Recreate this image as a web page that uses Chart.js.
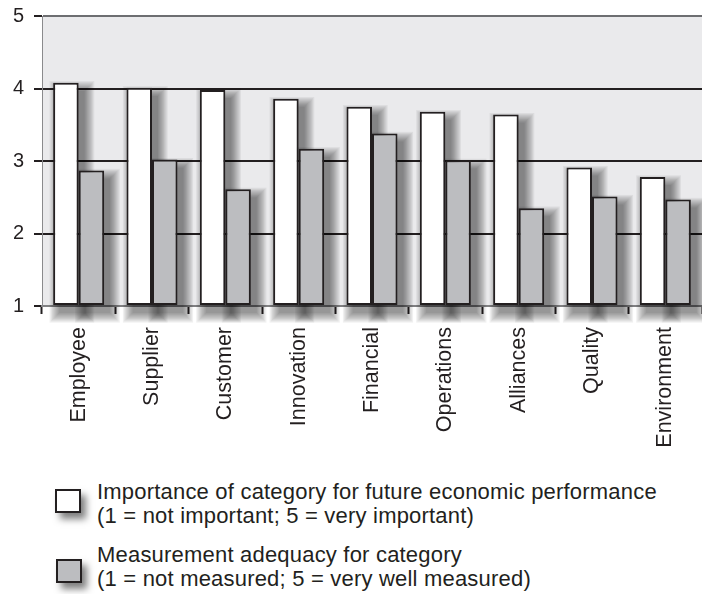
<!DOCTYPE html>
<html>
<head>
<meta charset="utf-8">
<script src="https://cdn.jsdelivr.net/npm/chart.js@4.4.1/dist/chart.umd.min.js"></script>
<style>
  body { margin: 0; background: #fff; }
  #wrap { position: relative; width: 702px; height: 594px; font-family: 'Liberation Sans', Arial, Helvetica, sans-serif; color: #231f20; }
  #chart { position: absolute; left: 0; top: 0; }
  .box { position: absolute; width: 22px; height: 20px; border: 2px solid #231f20; box-shadow: 5px 6px 7px rgba(0,0,0,0.5); }
  .txt { position: absolute; left: 97px; font-size: 22px; letter-spacing: 0.2px; line-height: 24px; white-space: nowrap; }
</style>
</head>
<body>
<div id="wrap">
  <canvas id="chart" width="702" height="470"></canvas>
  <div class="box" style="left:55px; top:489px; background:#fff;"></div>
  <div class="txt" id="leg1" style="top:480px;"></div>
  <div class="box" style="left:56px; top:559px; background:#bcbdc0;"></div>
  <div class="txt" id="leg2" style="top:543px;"></div>
</div>
<script>
'use strict';

// categories and values
var categories = ['Employee', 'Supplier', 'Customer', 'Innovation', 'Financial', 'Operations', 'Alliances', 'Quality', 'Environment'];
var importance = [4.08, 4.01, 3.98, 3.86, 3.75, 3.68, 3.64, 2.91, 2.78];
var adequacy = [2.87, 3.02, 2.61, 3.17, 3.38, 3.01, 2.35, 2.51, 2.47];
var yTicks = [1, 2, 3, 4, 5];

var legendImportance = ['Importance of category for future economic performance', '(1 = not important; 5 = very important)'];
var legendAdequacy = ['Measurement adequacy for category', '(1 = not measured; 5 = very well measured)'];

document.getElementById('leg1').innerHTML = legendImportance.join('<br>');
document.getElementById('leg2').innerHTML = legendAdequacy.join('<br>');

var ink = '#231f20';
var font = "'Liberation Sans', Arial, Helvetica, sans-serif";

// grey plot background
var plotBg = {
  id: 'plotBg',
  beforeDraw: function(chart) {
    var a = chart.chartArea;
    var c = chart.ctx;
    c.save();
    c.fillStyle = '#eaeaec';
    c.fillRect(a.left, a.top, a.right - a.left, a.bottom - a.top);
    c.restore();
  }
};

// soft drop shadow under the bars, built from stacked translucent rects
var barShadow = {
  id: 'barShadow',
  beforeDatasetsDraw: function(chart) {
    var c = chart.ctx;
    c.save();
    c.fillStyle = 'rgba(0,0,0,0.06)';
    chart.data.datasets.forEach(function(ds, i) {
      chart.getDatasetMeta(i).data.forEach(function(bar) {
        var p = bar.getProps(['x', 'y', 'base', 'width'], true);
        for (var k = 0; k < 9; k++) {
          var g = k * 1.2;
          c.fillRect(p.x - p.width / 2 + 6 - g, p.y + 8 - g, p.width + 2 * g, p.base - p.y + 2 * g);
        }
      });
    });
    c.restore();
  }
};

var ctx = document.getElementById('chart').getContext('2d');
var chart = new Chart(ctx, {
  type: 'bar',
  data: {
    labels: categories,
    datasets: [{
      label: legendImportance[0],
      data: importance,
      base: 1,
      backgroundColor: '#ffffff',
      borderColor: ink,
      borderWidth: 2,
      borderSkipped: false,
      clip: false
    }, {
      label: legendAdequacy[0],
      data: adequacy,
      base: 1,
      backgroundColor: '#bcbdc0',
      borderColor: ink,
      borderWidth: 2,
      borderSkipped: false,
      clip: false
    }]
  },
  options: {
    responsive: false,
    animation: false,
    devicePixelRatio: 1,
    layout: { padding: { top: 16, right: 0, bottom: 0, left: 0 } },
    datasets: { bar: { barPercentage: 1, categoryPercentage: 0.696 } },
    plugins: { legend: { display: false }, tooltip: { enabled: false } },
    scales: {
      x: {
        grid: { offset: true, drawOnChartArea: false, tickLength: 8, tickWidth: 2, tickColor: ink },
        border: { color: '#808082', width: 2 },
        ticks: { minRotation: 90, maxRotation: 90, padding: 13, color: ink, font: { family: font, size: 21.5 } },
        afterFit: function(s) { s.height = 164; s.paddingLeft = 0; s.paddingRight = 0; }
      },
      y: {
        min: 1,
        max: 5,
        afterBuildTicks: function(s) { s.ticks = yTicks.map(function(v) { return { value: v }; }); },
        ticks: { padding: 10, color: ink, font: { family: font, size: 20 } },
        grid: {
          color: function(c) {
            var v = c.tick ? c.tick.value : 0;
            if (v === 1) return 'rgba(0,0,0,0)';
            if (v === 5) return '#6d6e71';
            return ink;
          },
          lineWidth: 2,
          tickColor: ink,
          tickLength: 8,
          tickWidth: 2
        },
        border: { color: '#8a8a8c', width: 1 },
        afterFit: function(s) { s.width = 42; s.paddingTop = 0; s.paddingBottom = 0; }
      }
    }
  },
  plugins: [plotBg, barShadow]
});
</script>
</body>
</html>
